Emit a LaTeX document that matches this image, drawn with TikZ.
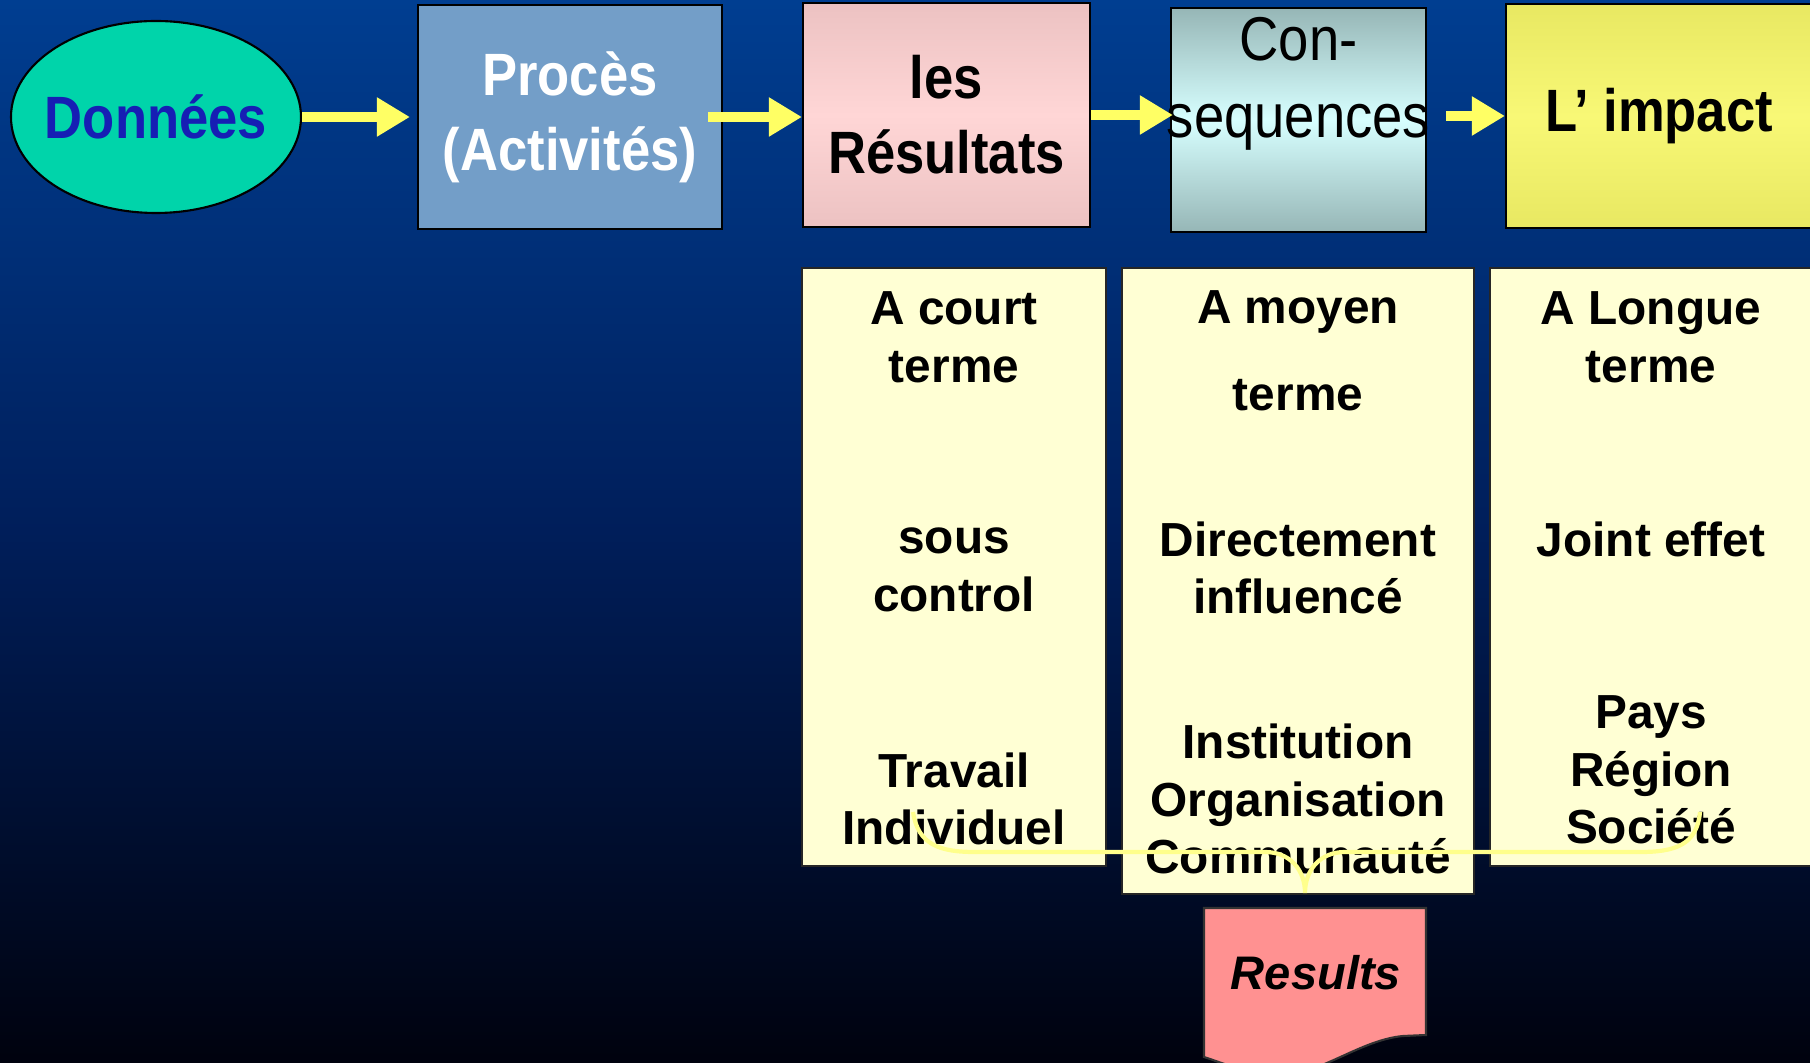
\documentclass[tikz,border=0pt]{standalone}
\usepackage{fontspec}
\setmainfont{Liberation Sans}
\newfontfamily\narrowfont[FakeStretch=0.88]{Liberation Sans}
\usetikzlibrary{arrows.meta,shapes.geometric}

\definecolor{bgtop}{RGB}{0,62,145}
\definecolor{bgmid}{RGB}{0,30,90}
\definecolor{bgbot}{RGB}{0,2,14}
\definecolor{donneesfill}{RGB}{0,212,170}
\definecolor{donneestext}{RGB}{22,30,180}
\definecolor{procesfill}{RGB}{115,158,200}
\definecolor{pinkdark}{RGB}{236,194,194}
\definecolor{pinklight}{RGB}{255,214,214}
\definecolor{cyandark}{RGB}{150,182,182}
\definecolor{cyanlight}{RGB}{215,255,255}
\definecolor{yellowdark}{RGB}{232,232,98}
\definecolor{yellowlight}{RGB}{248,248,118}
\definecolor{cream}{RGB}{255,255,212}
\definecolor{docpink}{RGB}{255,145,145}
\definecolor{arrowyellow}{RGB}{255,255,100}
\definecolor{braceyellow}{RGB}{255,255,140}

\tikzset{
  topbox/.style={draw=black, line width=0.6pt, minimum height=2.24cm, inner sep=0pt},
  toptext/.style={font=\narrowfont\fontsize{17}{21.3}\selectfont\bfseries, align=center},
  colbox/.style={draw=black!85, fill=cream, line width=0.6pt, inner sep=0pt},
  coltext/.style={font=\fontsize{13.6}{16.4}\selectfont\bfseries, align=center},
  flow/.style={draw=arrowyellow, line width=0.1cm, -{Triangle[length=0.33cm,width=0.37cm]}},
}

\begin{document}
\begin{tikzpicture}
  \useasboundingbox (0,0) rectangle (18.10,-10.63);
  \clip (0,0) rectangle (18.10,-10.63);
  \shade[top color=bgtop, bottom color=bgbot, middle color=bgmid] (0,0) rectangle (18.10,-10.63); %fond

  % ligne du haut
  \node[ellipse, draw=black, line width=0.6pt, fill=donneesfill, minimum width=2.9cm, minimum height=1.92cm, inner sep=0pt] (donnees) at (1.56,-1.17) {};
  \node[toptext, text=donneestext] (donneestxt) at (donnees) {Données};
  \node[topbox, toptext, fill=procesfill, text=white, minimum width=3.04cm] (proces) at (5.70,-1.17) {Procès\\(Activités)};
  \node[topbox, toptext, top color=pinkdark, bottom color=pinkdark, middle color=pinklight, minimum width=2.87cm] (resultats) at (9.465,-1.15) {les\\Résultats};
  \node[topbox, top color=cyandark, bottom color=cyandark, middle color=cyanlight, minimum width=2.55cm] (conseq) at (12.985,-1.20) {};
  \node[font=\narrowfont\fontsize{17.6}{21.8}\selectfont, align=center] (conseqtxt) at (12.985,-0.84) {Con-\\sequences}; %texte pas centre
  \node[topbox, toptext, top color=yellowdark, bottom color=yellowdark, middle color=yellowlight, minimum width=3.06cm] (impact) at (16.59,-1.16) {L’ impact};

  % fleches
  \draw[flow, shorten >=0.07cm] (donnees.east) -- (proces.west);
  \draw[flow, shorten <=-0.15cm] (proces.east) -- (proces.east -| resultats.west);
  \draw[flow, shorten >=-0.03cm] (resultats.east) -- (resultats.east -| conseq.west);
  \draw[flow, shorten <=0.19cm] (conseq.east |- impact.west) -- (impact.west);

  % colonnes
  \node[colbox, minimum width=3.04cm, minimum height=5.98cm] (court) at (9.54,-5.67) {};
  \node[colbox, minimum width=3.52cm, minimum height=6.26cm] (moyen) at (12.98,-5.81) {};
  \node[colbox, minimum width=3.22cm, minimum height=5.98cm] (longue) at (16.51,-5.67) {};

  \node[coltext] (court1) at (9.54,-3.375) {A court\\terme};
  \node[coltext] (court2) at (9.54,-5.70) {sous\\control};
  \node[coltext] (court3) at (9.54,-7.99) {Travail\\Individuel};

  \node[coltext] (moyen1) at (12.98,-3.12) {A moyen};
  \node[coltext] (moyen2) at (12.98,-3.95) {terme};
  \node[coltext] (moyen3) at (12.98,-5.68) {Directement\\influencé};
  \node[coltext] (moyen4) at (12.98,-7.99) {Institution\\Organisation\\Communauté};

  \node[coltext] (longue1) at (16.51,-3.375) {A Longue\\terme};
  \node[coltext] (longue2) at (16.51,-5.39) {Joint effet};
  \node[coltext] (longue3) at (16.51,-7.70) {Pays\\Région\\Société};

  % accolade
  \draw[braceyellow, line width=1.2pt] (9.13,-8.12) .. controls (9.18,-8.45) and (9.40,-8.52) .. (9.75,-8.52)
    -- (12.65,-8.52) .. controls (12.90,-8.52) and (13.05,-8.70) .. (13.05,-8.93)
    .. controls (13.05,-8.70) and (13.20,-8.52) .. (13.45,-8.52)
    -- (16.40,-8.52) .. controls (16.75,-8.52) and (16.97,-8.45) .. (17.00,-8.12);

  % document Results
  \draw[fill=docpink, draw=black!80, line width=0.6pt] (12.04,-9.08) -- (14.26,-9.08) -- (14.26,-10.35) -- (14.03,-10.36)
    .. controls (13.6,-10.40) and (13.2,-10.75) .. (12.8,-10.75)
    .. controls (12.5,-10.75) and (12.2,-10.62) .. (12.04,-10.57) -- cycle;
  \node[font=\fontsize{13.4}{16}\selectfont\bfseries\itshape] (results) at (13.16,-9.73) {Results};
\end{tikzpicture}
\end{document}
